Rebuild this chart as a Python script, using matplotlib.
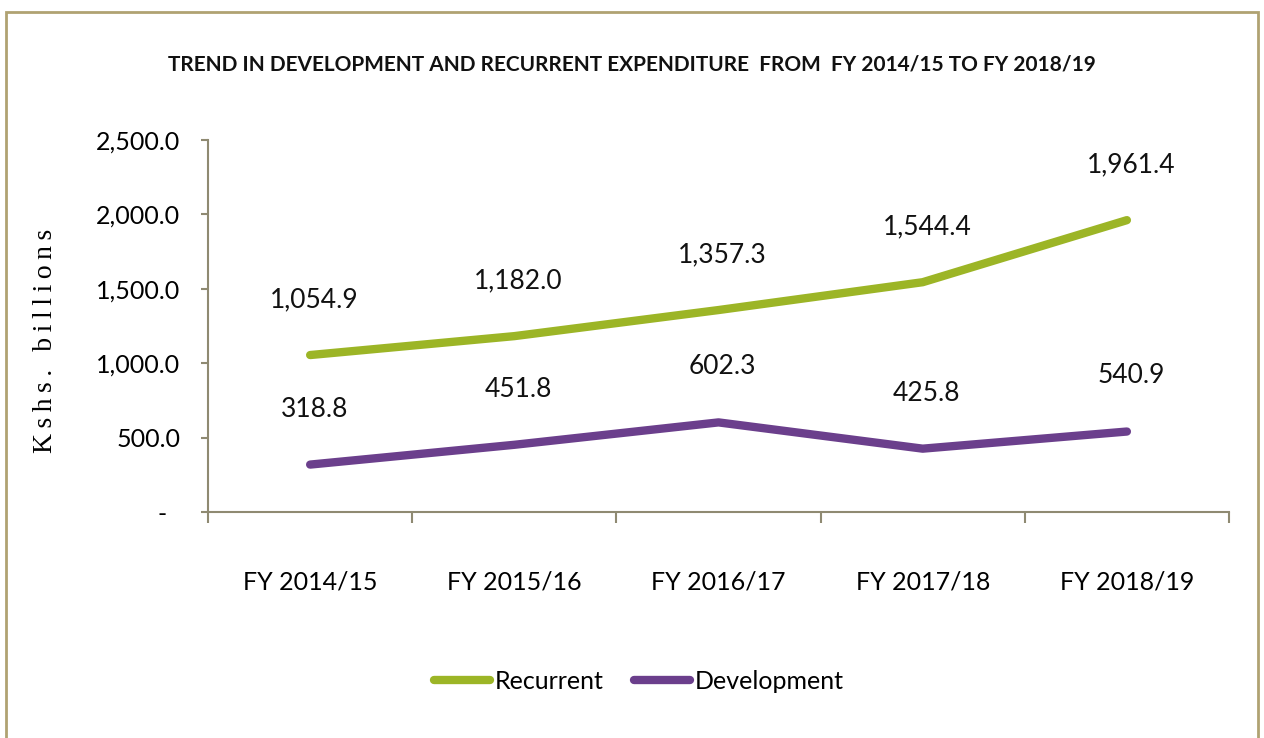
import matplotlib
matplotlib.use("Agg")
import matplotlib.pyplot as plt
from matplotlib.patches import Rectangle
from matplotlib.ticker import FuncFormatter

years = ["FY 2014/15", "FY 2015/16", "FY 2016/17", "FY 2017/18", "FY 2018/19"]
recurrent = [1054.9, 1182.0, 1357.3, 1544.4, 1961.4]
development = [318.8, 451.8, 602.3, 425.8, 540.9]

plt.rcParams['font.family'] = ['Lato', 'DejaVu Sans']

fig = plt.figure(figsize=(12.64, 7.38), dpi=100)
ax = fig.add_axes([0.1646, 0.3062, 0.8077, 0.5041])

green = '#9cb526'
purple = '#6b3f8c'
x = list(range(len(years)))

ax.plot(x, recurrent, color=green, lw=6, solid_capstyle='round', label='Recurrent')
ax.plot(x, development, color=purple, lw=6, solid_capstyle='round', label='Development')

for xi, v in zip(x, recurrent):
    ax.annotate(f"{v:,.1f}", (xi, v), xytext=(3, 40), textcoords='offset points',
                ha='center', va='center', fontsize=19, color='#111111')
for xi, v in zip(x, development):
    ax.annotate(f"{v:,.1f}", (xi, v), xytext=(3, 40), textcoords='offset points',
                ha='center', va='center', fontsize=19, color='#111111')

ax.set_xlim(-0.5, 4.5)
ax.set_ylim(0, 2500)
ax.set_yticks([0, 500, 1000, 1500, 2000, 2500])
ax.yaxis.set_major_formatter(FuncFormatter(lambda v, p: "-  " if v == 0 else f"{v:,.1f}"))
ax.set_xticks(x)
ax.set_xticklabels(years)
ax.set_xticks([i - 0.5 for i in range(6)], minor=True)

spine_col = '#8f8a72'
for s in ['top', 'right']:
    ax.spines[s].set_visible(False)
for s in ['left', 'bottom']:
    ax.spines[s].set_color(spine_col)
    ax.spines[s].set_linewidth(1.5)

ax.tick_params(axis='y', length=5, width=1.5, color=spine_col, labelsize=18, pad=15)
ax.tick_params(axis='x', which='major', length=0, labelsize=18, pad=42)
ax.tick_params(axis='x', which='minor', length=8, width=1.5, color=spine_col)

ylab = "\u2009".join("Kshs. billions")
fig.text(0.036, 0.538, ylab, rotation=90, ha='center', va='center',
         fontsize=20, family=['Liberation Serif', 'DejaVu Serif'])

fig.text(0.5, 0.912, "TREND IN DEVELOPMENT AND RECURRENT EXPENDITURE  FROM  FY 2014/15 TO FY 2018/19",
         ha='center', va='center', fontsize=15, fontweight='bold', color='#111111')

ax.legend(loc='center', bbox_to_anchor=(0.422, -0.455), ncol=2, frameon=False,
          fontsize=18, handlelength=2.25, handletextpad=0.2, columnspacing=1.2)

fig.patches.append(Rectangle((6 / 1264, -0.05), 1252 / 1264, 1.05 - 12 / 738,
                             transform=fig.transFigure, fill=False,
                             edgecolor='#b0a272', lw=2))

fig.savefig("out.png", dpi=100)
